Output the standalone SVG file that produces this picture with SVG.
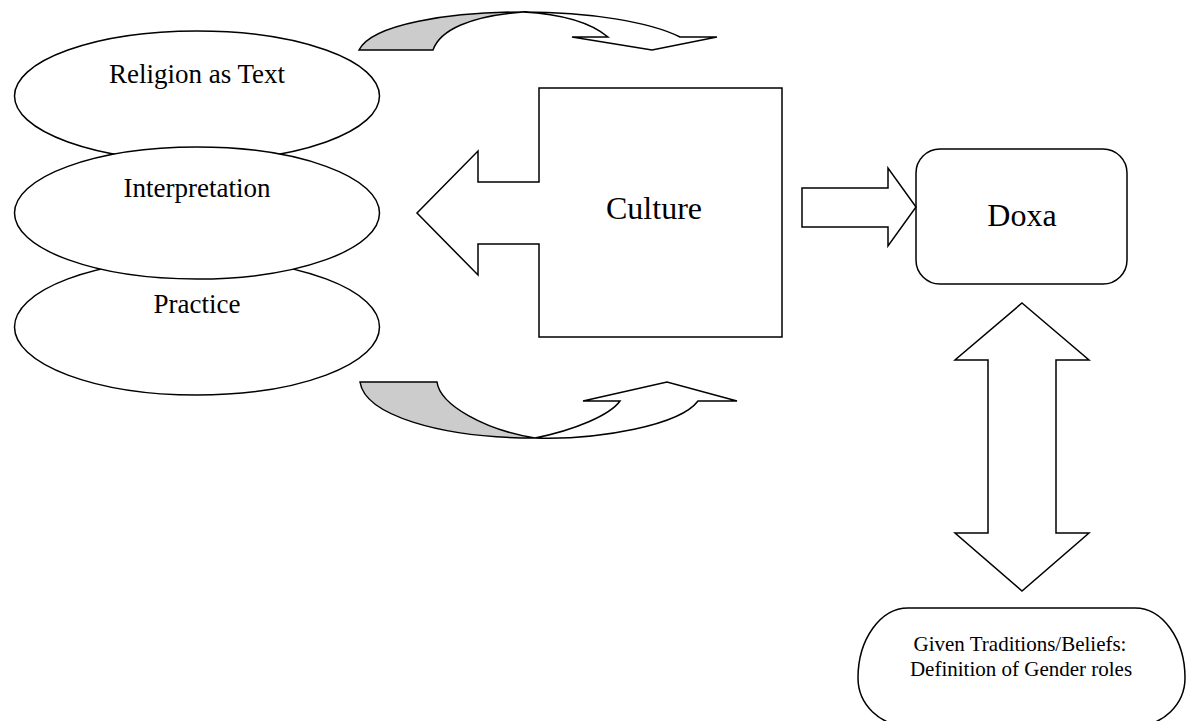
<svg xmlns="http://www.w3.org/2000/svg" width="1190" height="721" viewBox="0 0 1190 721">
<style>
.s{fill:#fff;stroke:#000;stroke-width:1.5;stroke-linejoin:miter}
.g{fill:#cccccc;stroke:#000;stroke-width:1.5}
.t{font-family:"Liberation Serif","Times New Roman",serif;fill:#000;text-anchor:middle}
</style>
<rect width="1190" height="721" fill="#fff"/>
<g id="religion">
<ellipse class="s" cx="197" cy="96" rx="182.5" ry="65"/>
<text class="t" x="197" y="83" font-size="27">Religion as Text</text>
</g>
<g id="practice">
<ellipse class="s" cx="197" cy="327" rx="182.5" ry="68"/>
<text class="t" x="197" y="313" font-size="27">Practice</text>
</g>
<g id="interpretation">
<ellipse class="s" cx="197" cy="213" rx="182.5" ry="66"/>
<text class="t" x="197" y="197" font-size="27">Interpretation</text>
</g>
<g id="culture">
<path class="s" d="M539,88 L782,88 L782,337 L539,337 L539,244 L478,244 L478,275 L417,213 L478,151 L478,182 L539,182 Z"/>
<text class="t" x="654" y="219" font-size="32">Culture</text>
</g>
<g id="doxa">
<rect class="s" x="916" y="149" width="211" height="135" rx="24" ry="24"/>
<text class="t" x="1022" y="226" font-size="32">Doxa</text>
</g>
<g id="traditions">
<path class="s" d="M908,608 L1135,608 A50,70 0 0 1 1185,678 A50,48 0 0 1 1135,726 L908,726 A50,48 0 0 1 858,678 A50,70 0 0 1 908,608 Z"/>
<text class="t" x="1020" y="651" font-size="21">Given Traditions/Beliefs:</text>
<text class="t" x="1021" y="676" font-size="21">Definition of Gender roles</text>
</g>
<g id="connectors">
<path class="s" d="M802,188 L888,188 L888,168 L916,207 L888,246 L888,227 L802,227 Z"/>
<path class="s" d="M1022,303 L1089,360 L1056,360 L1056,533 L1089,533 L1022,591 L955,533 L988,533 L988,360 L955,360 Z"/>
<path class="g" d="M359,50 C372,24 450,12 523,12 C470,16 440,30 433,50 Z"/>
<path class="s" d="M523,12 C590,12 650,22 680,37 L717,37 L652,50 L572,37 L608,37 C590,22 560,14 523,12 Z"/>
<path class="s" d="M535,438 C575,430 610,415 620,401 L583,401 L667,382 L737,401 L698,401 C680,425 600,440 535,438 Z"/>
<path class="g" d="M360,382 L437,382 C440,405 485,430 535,438 C440,438 365,415 360,382 Z"/>
</g>
</svg>
